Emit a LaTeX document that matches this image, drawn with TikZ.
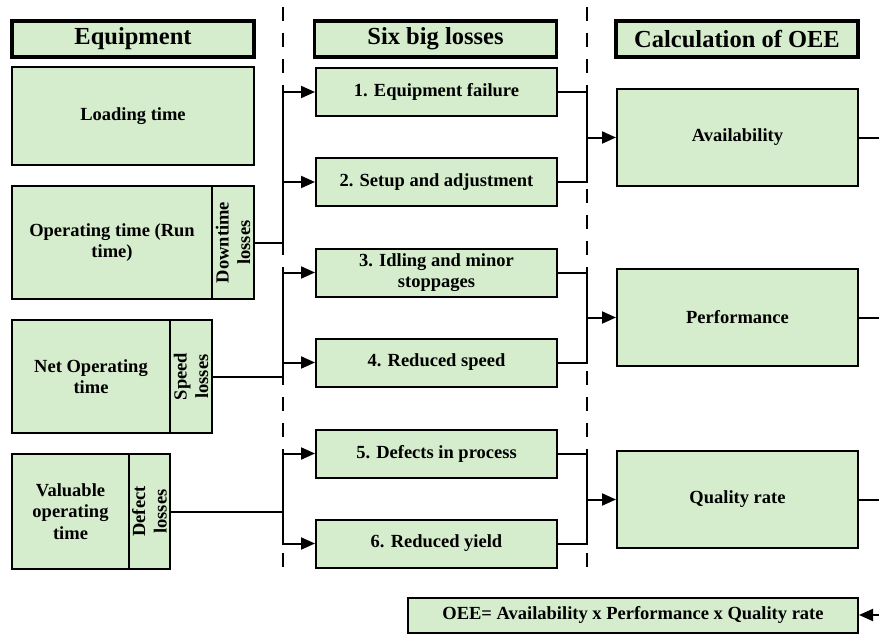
\documentclass[tikz,border=0pt]{standalone}
\usepackage{fontspec}
\setmainfont{Liberation Serif}
\usetikzlibrary{arrows.meta}
\definecolor{boxgreen}{RGB}{214,237,205}
\newcommand{\bodyfont}{\fontsize{18.5}{21.5}\selectfont\bfseries}
\newcommand{\headfont}{\fontsize{24.5}{28}\selectfont\bfseries}

\begin{document}
\begin{tikzpicture}[x=1pt,y=-1pt,
  box/.style={draw, line width=2pt, fill=boxgreen, inner sep=0pt, align=center, font=\bodyfont},
  headbox/.style={box, line width=3.6pt, font=\headfont, minimum width=242pt, minimum height=36pt},
  lossbox/.style={box, minimum width=241pt, minimum height=48pt},
  calcbox/.style={box, minimum width=241pt, minimum height=97pt},
  sidetext/.style={rotate=90, align=center, font=\bodyfont, inner sep=0pt},
  link/.style={line width=2pt},
  arr/.style={link, -{Triangle[length=14pt,width=12pt]}},
  divider/.style={line width=2pt, dash pattern=on 14pt off 12pt},
]
\useasboundingbox (0,0) rectangle (879,634);

% column dividers
\coordinate (d1top) at (283,7);
\coordinate (d1bot) at (283,577);
\coordinate (d2top) at (587,7);
\coordinate (d2bot) at (587,577);
\draw[divider] (d1top) -- (d1bot);
\draw[divider] (d2top) -- (d2bot);

% headers
\node[headbox] (hequip) at (133,39) {Equipment};
\node[headbox] (hloss) at (435.5,39) {Six big losses};
\node[headbox] (hcalc) at (737,39) {Calculation of OEE};

% equipment time blocks
\node[box, minimum width=242pt, minimum height=98pt] (load) at (133,116) {Loading time};

\node[box, minimum width=200pt, minimum height=113pt] (op) at (112,242.5) {Operating time (Run\\time)};
\node[box, minimum width=42pt, minimum height=113pt] (opside) at (233,242.5) {};
\node[sidetext] (optxt) at (opside) {Downtime\\losses};

\node[box, minimum width=158pt, minimum height=113pt] (net) at (91,376.5) {Net Operating\\time};
\node[box, minimum width=42pt, minimum height=113pt] (netside) at (191,376.5) {};
\node[sidetext] (nettxt) at (netside) {Speed\\losses};

\node[box, minimum width=117pt, minimum height=115pt] (val) at (70.5,511.5) {Valuable\\operating\\time};
\node[box, minimum width=41pt, minimum height=115pt] (valside) at (149.5,511.5) {};
\node[sidetext] (valtxt) at (valside) {Defect\\losses};

% six big losses
\node[lossbox] (l1) at (436.5,92) {1. Equipment failure};
\node[lossbox] (l2) at (436.5,182) {2. Setup and adjustment};
\node[lossbox] (l3) at (436.5,272.5) {3. Idling and minor\\stoppages};
\node[lossbox] (l4) at (436.5,362.5) {4. Reduced speed};
\node[lossbox] (l5) at (436.5,453.5) {5. Defects in process};
\node[lossbox] (l6) at (436.5,543.5) {6. Reduced yield};

% OEE factors
\node[calcbox] (avail) at (737.5,137.5) {Availability};
\node[calcbox] (perf) at (737.5,317.5) {Performance};
\node[calcbox] (qual) at (737.5,499.5) {Quality rate};

\node[box, minimum width=450pt, minimum height=35pt] (oee) at (633,615) {OEE= Availability x Performance x Quality rate};

% losses feed the six big losses
\coordinate (busA) at (283,242.5);
\coordinate (busB) at (283,376.5);
\coordinate (busC) at (283,511.5);
\draw[link] (opside.east) -- (busA);
\draw[arr] (busA) |- (l1.west);
\draw[arr] (busA) |- (l2.west);
\draw[link] (netside.east) -- (busB);
\draw[arr] (busB) |- (l3.west);
\draw[arr] (busB) |- (l4.west);
\draw[link] (valside.east) -- (busC);
\draw[arr] (busC) |- (l5.west);
\draw[arr] (busC) |- (l6.west);

% six big losses feed the OEE factors
\coordinate (busD) at (587,137.5);
\coordinate (busE) at (587,317.5);
\coordinate (busF) at (587,499.5);
\draw[link] (l1.east) -| (busD);
\draw[link] (l2.east) -| (busD);
\draw[arr] (busD) -- (avail.west);
\draw[link] (l3.east) -| (busE);
\draw[link] (l4.east) -| (busE);
\draw[arr] (busE) -- (perf.west);
\draw[link] (l5.east) -| (busF);
\draw[link] (l6.east) -| (busF);
\draw[arr] (busF) -- (qual.west);

% factors leave to the right and return into the OEE formula
\coordinate (outA) at (882,137.5);
\coordinate (outP) at (882,317.5);
\coordinate (outQ) at (882,499.5);
\coordinate (inOEE) at (882,615);
\draw[link] (avail.east) -- (outA);
\draw[link] (perf.east) -- (outP);
\draw[link] (qual.east) -- (outQ);
\draw[arr] (inOEE) -- (oee.east);
\end{tikzpicture}
\end{document}
